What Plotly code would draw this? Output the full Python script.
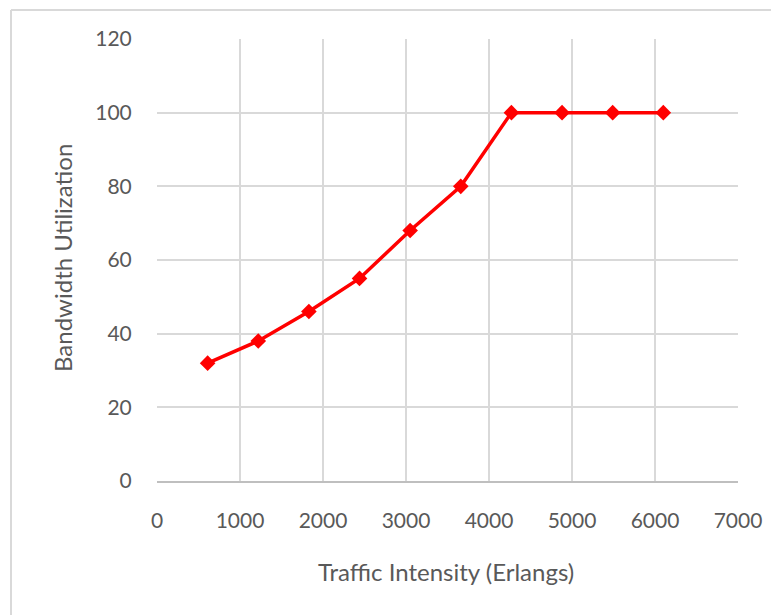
import plotly.graph_objects as go

traffic = [610, 1220, 1830, 2440, 3050, 3660, 4270, 4880, 5490, 6100]
utilization = [32, 38, 46, 55, 68, 80, 100, 100, 100, 100]
x_ticks = [0, 1000, 2000, 3000, 4000, 5000, 6000, 7000]
y_ticks = [0, 20, 40, 60, 80, 100, 120]

OFF = 8  # browser body margin
W, H = 779 - OFF, 615 - OFF
L, R, T, B = 157 - OFF, 41, 39 - OFF, 134
pw, ph = W - L - R, H - T - B

def px(x):
    return (x - OFF - L) / pw

def py(y):
    return (H - B - (y - OFF)) / ph

fig = go.Figure()
fig.add_trace(go.Scatter(
    x=traffic, y=utilization, mode="lines+markers",
    line=dict(color="#ff0000", width=3.5),
    marker=dict(symbol="diamond", size=12, color="#ff0000"),
    showlegend=False,
))

font = dict(family="Lato, 'Open Sans', sans-serif", size=21, color="#595959")
tfont = dict(family="Lato, 'Open Sans', sans-serif", size=24, color="#595959")

fig.update_xaxes(
    range=[0, 7000], tickvals=x_ticks, ticktext=[str(v) for v in x_ticks],
    showgrid=True, gridcolor="#d9d9d9", gridwidth=1.5,
    showline=True, linecolor="#bfbfbf", linewidth=1.5,
    ticks="outside", ticklen=20, tickcolor="rgba(0,0,0,0)",
    tickfont=font, zeroline=False, fixedrange=True,
)
fig.update_yaxes(
    range=[0, 120], tickvals=y_ticks, ticktext=[str(v) for v in y_ticks],
    showgrid=True, gridcolor="#d9d9d9", gridwidth=1.5,
    showline=False,
    ticks="outside", ticklen=20, tickcolor="rgba(0,0,0,0)",
    tickfont=font, zeroline=False, fixedrange=True,
)

fig.add_annotation(
    text="Traffic Intensity (Erlangs)", xref="paper", yref="paper",
    x=px(446), y=py(571), showarrow=False, font=tfont,
    xanchor="center", yanchor="middle",
)
fig.add_annotation(
    text="Bandwidth Utilization", xref="paper", yref="paper",
    x=px(62), y=py(258), showarrow=False, font=tfont, textangle=-90,
    xanchor="center", yanchor="middle",
)

# outer chart frame
fig.add_shape(type="line", xref="paper", yref="paper",
              x0=px(11), x1=px(790), y0=py(10), y1=py(10),
              line=dict(color="#d9d9d9", width=2))
fig.add_shape(type="line", xref="paper", yref="paper",
              x0=px(11), x1=px(11), y0=py(10), y1=py(630),
              line=dict(color="#d9d9d9", width=2))

fig.update_layout(
    width=W, height=H,
    margin=dict(l=L, r=R, t=T, b=B),
    paper_bgcolor="white", plot_bgcolor="white",
    font=font,
)

fig.write_html("out.html")
